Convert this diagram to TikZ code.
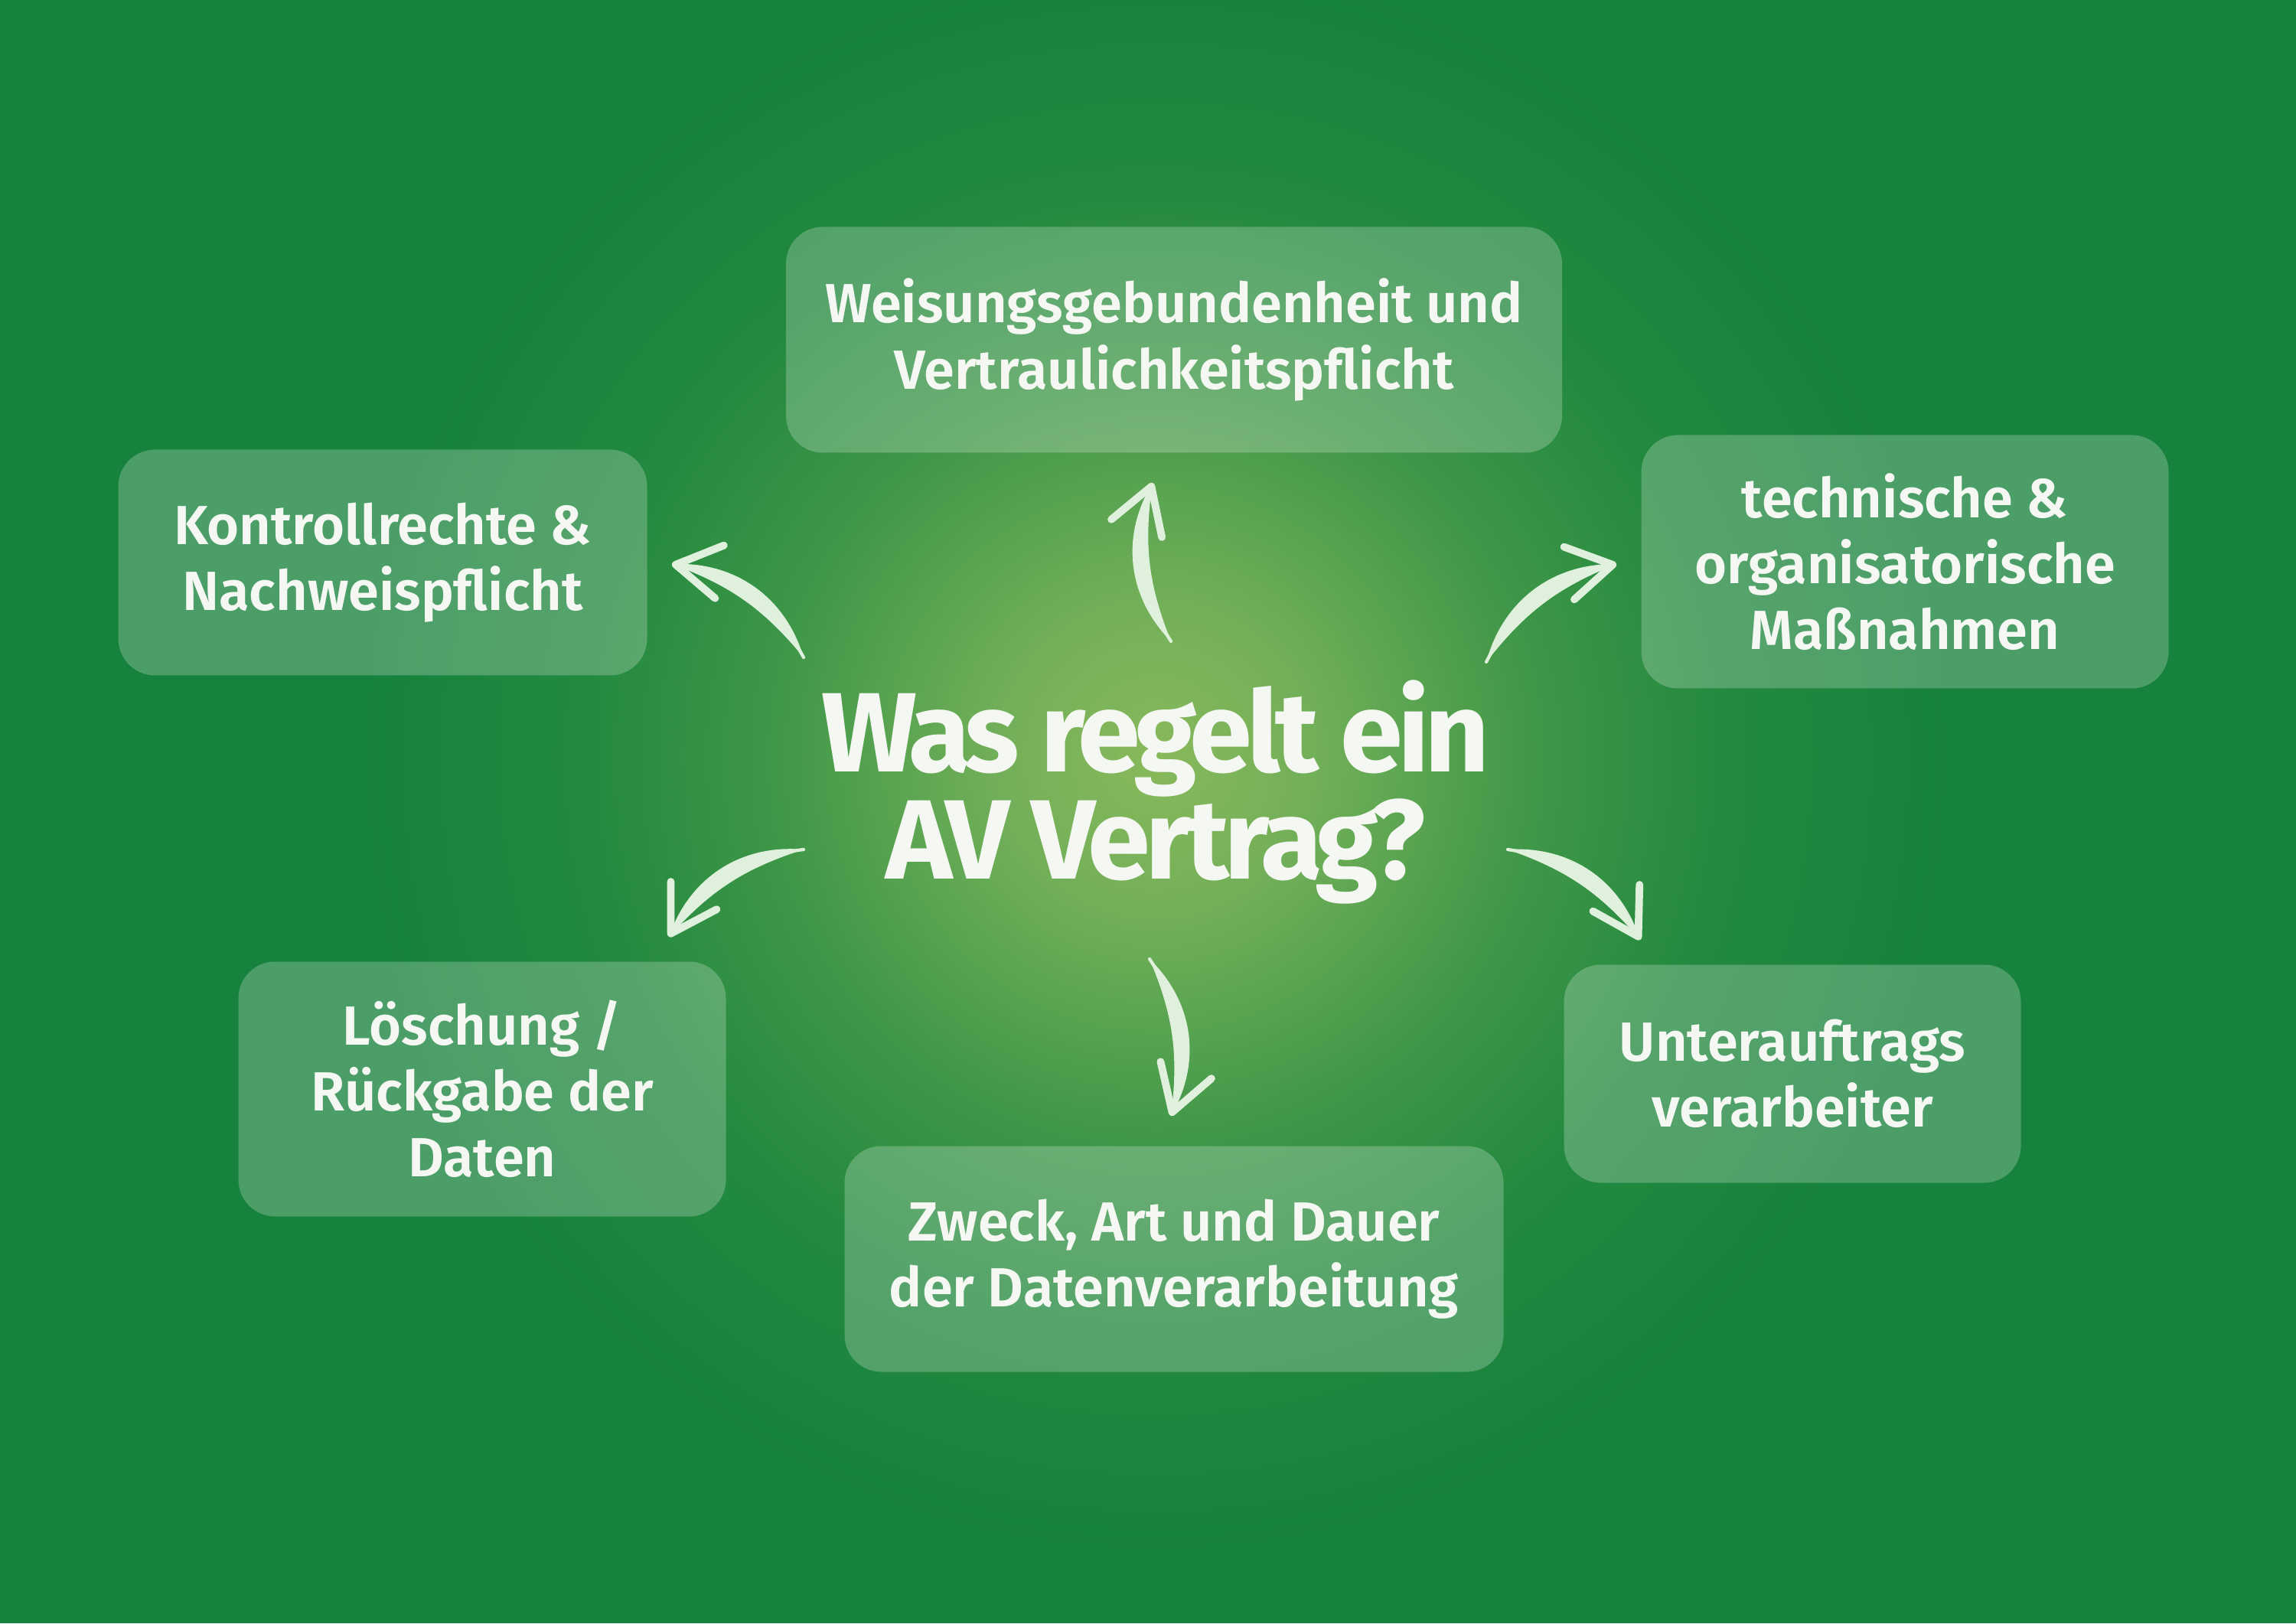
\documentclass[tikz,border=0pt]{standalone}
\usepackage{fontspec}
\setmainfont{Fira Sans}
\newfontfamily\boxfont{Fira Sans SemiBold}
\newfontfamily\titlefont{Fira Sans Bold}[LetterSpace=-4.5]
\usetikzlibrary{arrows.meta,positioning}
\definecolor{bgout}{HTML}{17823D}
\definecolor{glowa}{HTML}{88B95A}
\definecolor{glowb}{HTML}{72AF59}
\definecolor{glowc}{HTML}{3F9748}
\definecolor{glowd}{HTML}{23893F}
\definecolor{txt}{HTML}{F4F7F2}
\definecolor{arrowc}{HTML}{DFF0DC}
\pgfdeclareradialshading{glow}{\pgfpointorigin}{color(0bp)=(glowa); color(5bp)=(glowb); color(12bp)=(glowc); color(18bp)=(glowd); color(25bp)=(bgout); color(50bp)=(bgout)}

\begin{document}
\begin{tikzpicture}[
	topic/.style={rounded corners=0.48cm, fill=white, fill opacity=0.23, text opacity=1, text=txt, align=center, inner sep=0pt, font=\boxfont\fontsize{20.5}{24.5}\selectfont},
	headline/.style={text=txt, align=center, inner sep=0pt, font=\titlefont\fontsize{42}{40}\selectfont},
	swoosh/.style={draw=arrowc, line width=1.2pt, line cap=round, -{Straight Barb[length=0.58cm, width=0.7cm, line width=2.8pt, round]}}
	]
	\useasboundingbox (0,0) rectangle (30,21.21);
	\fill[bgout] (0,0) rectangle (30,21.21);
	\shade[shading=glow] (15.1,11.3) circle (10.4cm);

	\node[headline] (title) at (15.1,10.86) {Was regelt ein\\AV Vertrag?};

	\node[topic, minimum width=10.14cm, minimum height=2.95cm] (weisung) at (15.34,16.77) {Weisungsgebundenheit und\\Vertraulichkeitspflicht};
	\node[topic, minimum width=6.91cm, minimum height=2.95cm] (kontrolle) at (5.00,13.86) {Kontrollrechte \&\\Nachweispflicht};
	\node[topic, minimum width=6.89cm, minimum height=3.31cm] (massnahmen) at (24.89,13.87) {technische \&\\organisatorische\\Maßnahmen};
	\node[topic, minimum width=6.37cm, minimum height=3.33cm] (loeschung) at (6.30,6.98) {Löschung /\\Rückgabe der\\Daten};
	\node[topic, minimum width=8.61cm, minimum height=2.95cm] (zweck) at (15.34,4.76) {Zweck, Art und Dauer\\der Datenverarbeitung};
	\node[topic, minimum width=5.97cm, minimum height=2.85cm] (unterauftrag) at (23.42,7.18) {Unterauftrags\\verarbeiter};

	% arrow ends
	\coordinate (ups) at (15.30,12.83);  \coordinate (upe) at (15.06,14.90);
	\coordinate (uls) at (10.50,12.62);  \coordinate (ule) at (8.78,13.84);
	\coordinate (urs) at (19.42,12.56);  \coordinate (ure) at (21.12,13.84);
	\coordinate (lls) at (10.50,10.11);  \coordinate (lle) at (8.74,8.97);
	\coordinate (lrs) at (19.70,10.11);  \coordinate (lre) at (21.43,8.93);
	\coordinate (dns) at (15.02,8.68);   \coordinate (dne) at (15.30,6.63);

	\foreach \s/\e/\a/\c/\m in {ups/upe/38/15/26, uls/ule/-38/-15/-26, urs/ure/38/15/26, lls/lle/-38/-15/-26, lrs/lre/38/15/26, dns/dne/38/15/26}
	{
		\fill[arrowc] (\s) to[bend left=\a] (\e) to[bend right=\c] (\s);
		\draw[swoosh] (\s) to[bend left=\m] (\e);
	}
\end{tikzpicture}
\end{document}
